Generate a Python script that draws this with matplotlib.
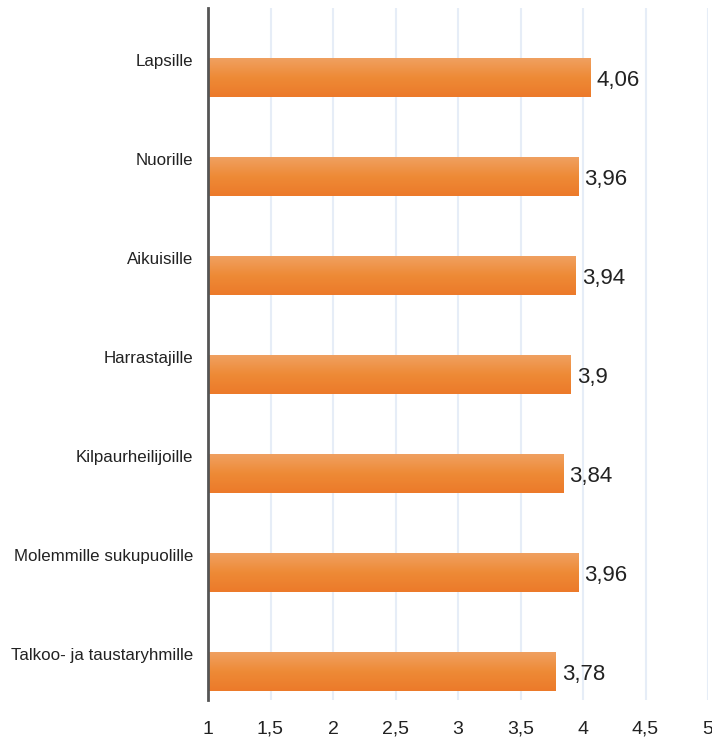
import numpy as np
import matplotlib.pyplot as plt
from matplotlib.colors import LinearSegmentedColormap

# Survey averages per target group
categories = ['Lapsille', 'Nuorille', 'Aikuisille', 'Harrastajille',
              'Kilpaurheilijoille', 'Molemmille sukupuolille',
              'Talkoo- ja taustaryhmille']
values = [4.06, 3.96, 3.94, 3.90, 3.84, 3.96, 3.78]
xticks = [1, 1.5, 2, 2.5, 3, 3.5, 4, 4.5, 5]

plt.rcParams['font.family'] = ['Liberation Sans', 'DejaVu Sans']

fig = plt.figure(figsize=(7.12, 7.46), dpi=100)
ax = fig.add_axes([208 / 712, 46 / 746, 500 / 712, 692 / 746])

y = np.arange(len(categories))
h = 0.39
grad = LinearSegmentedColormap.from_list('bar', ['#f0a060', '#ee8a36', '#ec7a2a'])
g = np.linspace(0, 1, 64).reshape(-1, 1)

for yi, v in zip(y, values):
    ax.barh(yi, v - 1, left=1, height=h, color='none', edgecolor='none')
    ax.imshow(g, cmap=grad, aspect='auto', extent=(1, v, yi + h / 2, yi - h / 2),
              zorder=2, interpolation='bilinear')
    ax.text(v + 0.05, yi + 0.03, f'{v:.2f}'.rstrip('0').replace('.', ','),
            va='center', ha='left', fontsize=16, color='#222222')
    ax.text(0.88, yi - 0.16, categories[yi], va='center', ha='right',
            fontsize=12.2, color='#222222')

ax.set_xlim(1, 5)
ax.set_ylim(len(categories) - 1 + 0.29, -0.70)
ax.set_xticks(xticks)
ax.set_xticklabels([])
# tick labels on a common baseline
for t in xticks:
    ax.text(t, -34 / 692, f'{t:g}'.replace('.', ','), transform=ax.get_xaxis_transform(),
            ha='center', va='baseline', fontsize=14, color='#222222')
ax.set_yticks([])
ax.tick_params(axis='x', length=0)
ax.grid(axis='x', color='#e6edf7', linewidth=1.5, zorder=0)
ax.set_axisbelow(True)
for s in ['top', 'right', 'bottom']:
    ax.spines[s].set_visible(False)
ax.spines['left'].set_color('#555555')
ax.spines['left'].set_linewidth(2)
ax.spines['left'].set_zorder(5)

fig.savefig('out.png', dpi=100)
